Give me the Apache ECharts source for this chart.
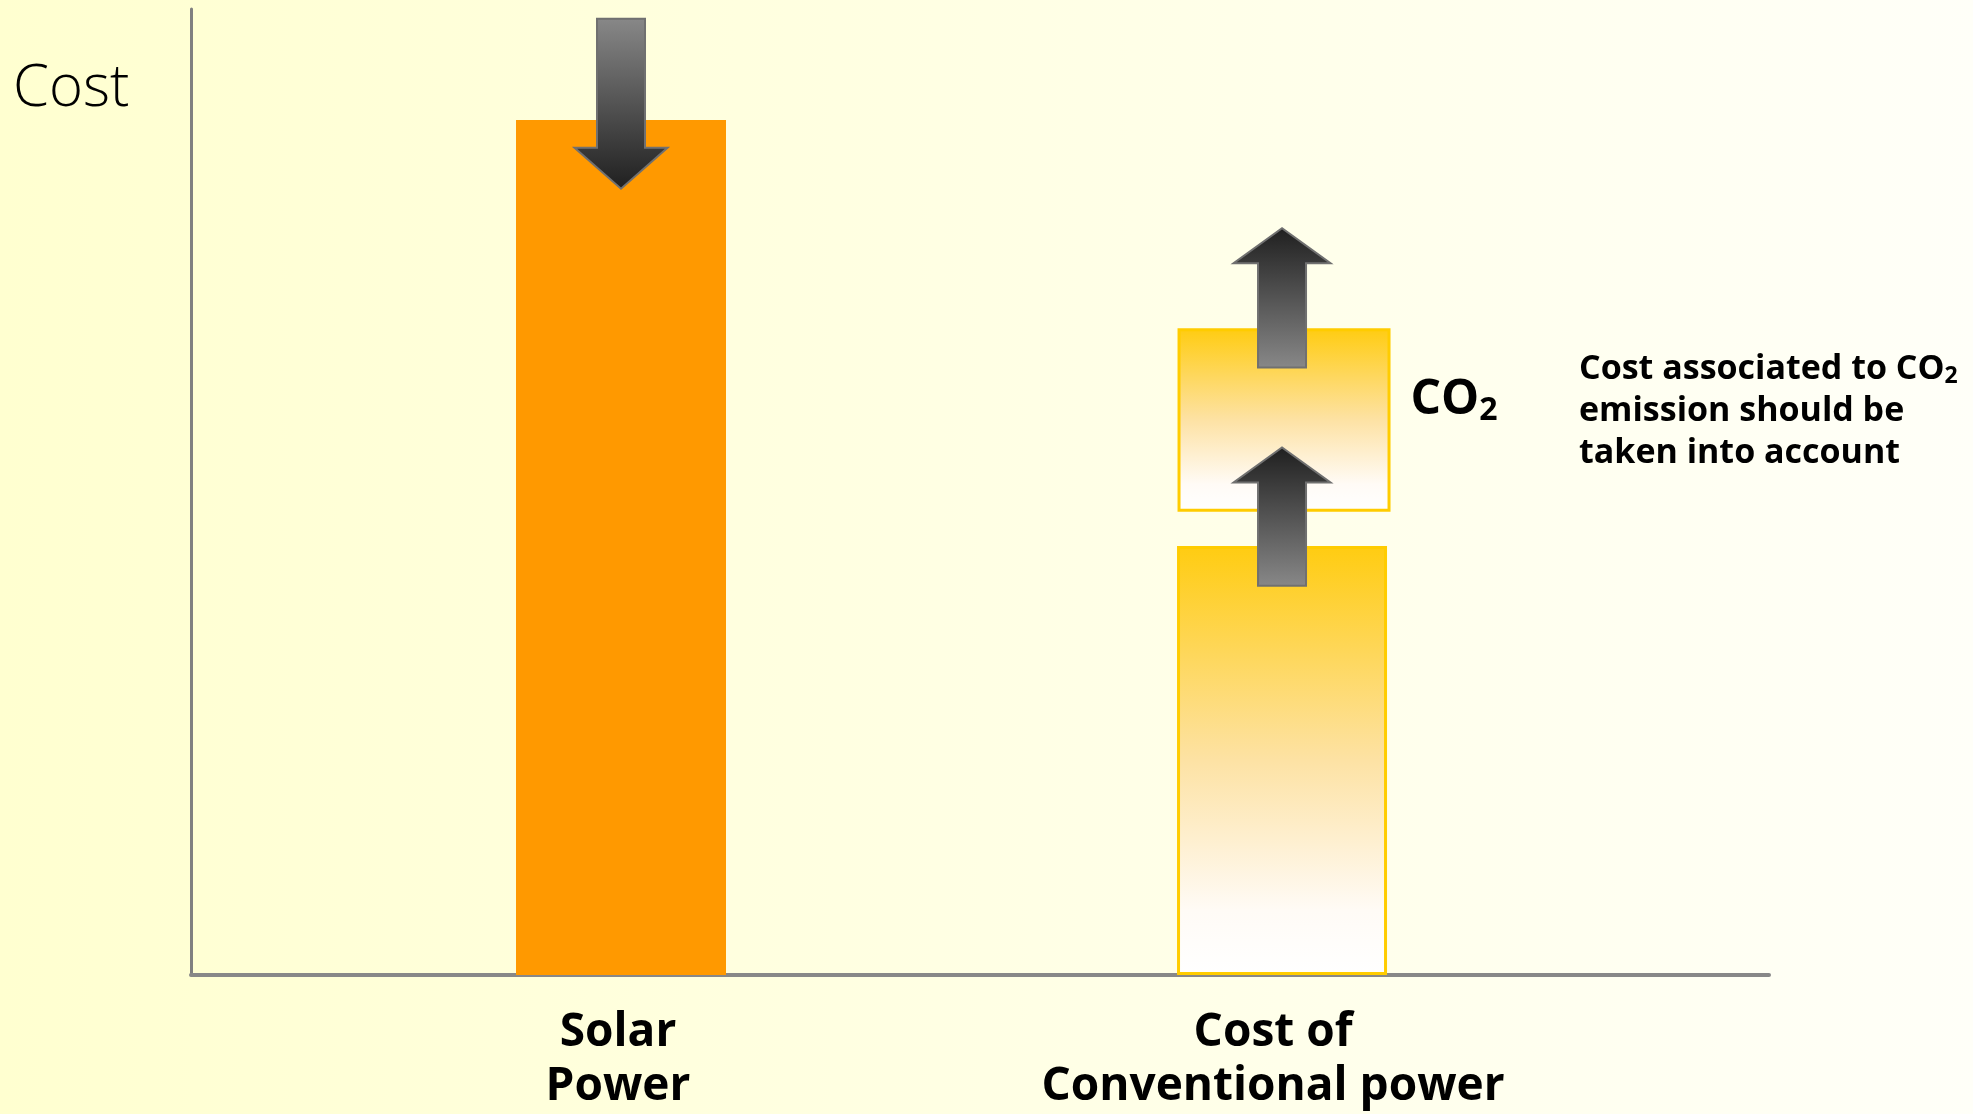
<!DOCTYPE html>
<html>
<head>
<meta charset="utf-8">
<script src="https://cdn.jsdelivr.net/npm/echarts@6/dist/echarts.min.js"></script>
<style>
  html, body { margin: 0; padding: 0; }
  #chart { width: 1973px; height: 1114px; }
</style>
</head>
<body>
<div id="chart"></div>
<script>
// 数据
const categories = ['Solar\nPower', 'Cost of\nConventional power'];
const categoryX = [27.25, 69.14];       // 柱子在横轴上的位置
const solarCost = [88.5];
const conventionalCost = [44.4];
const co2From = [48.1];                  // CO2 方块下沿
const co2To = [66.8];                    // CO2 方块上沿
const co2Label = 'CO{sub|2}';
const note = 'Cost associated to CO{sub|2}\nemission should be\ntaken into account';

// 箭头：x, 尾, 头
const arrowX = [27.25, 69.14, 69.14];
const arrowFrom = [99.0, 62.9, 40.3];
const arrowTo = [81.4, 77.3, 54.6];

const BOLD_FONT = '"Open Sans", "Noto Sans", sans-serif';
const BAR_W = 210;

const chart = echarts.init(document.getElementById('chart'));

function yellowFill() {
    return new echarts.graphic.LinearGradient(0, 0, 0, 1, [
        { offset: 0, color: '#FFCC11' },
        { offset: 0.5, color: '#FDE2A4' },
        { offset: 0.85, color: '#FFFBF6' },
        { offset: 1, color: '#FFFFFF' }
    ]);
}

const catLabel = {
    show: true,
    position: 'bottom',
    distance: 31,
    color: '#000',
    fontFamily: BOLD_FONT,
    fontWeight: 'bold',
    fontSize: 46,
    lineHeight: 54,
    align: 'center'
};

const option = {
    backgroundColor: new echarts.graphic.LinearGradient(0, 0, 1, 0, [
        { offset: 0, color: '#FFFFD0' },
        { offset: 1, color: '#FFFFF8' }
    ]),
    animation: false,
    title: {
        text: 'Cost',
        left: 8,
        top: 55,
        textStyle: {
            fontFamily: '"Open Sans", "Noto Sans", sans-serif',
            fontWeight: 300,
            fontSize: 58,
            color: '#000'
        }
    },
    grid: { left: 191, right: 204, top: 9, bottom: 139 },
    xAxis: {
        type: 'value',
        min: 0,
        max: 100,
        axisLine: { show: true, lineStyle: { color: '#888', width: 4 } },
        axisTick: { show: false },
        axisLabel: { show: false },
        splitLine: { show: false }
    },
    yAxis: {
        type: 'value',
        min: 0,
        max: 100,
        axisLine: { show: true, lineStyle: { color: '#808080', width: 3 } },
        axisTick: { show: false },
        axisLabel: { show: false },
        splitLine: { show: false }
    },
    series: [
        {
            name: 'Solar',
            type: 'bar',
            barWidth: BAR_W,
            barGap: '-100%',
            data: solarCost.map(v => [categoryX[0], v]),
            itemStyle: { color: '#FF9900' },
            label: Object.assign({}, catLabel, { formatter: categories[0], offset: [-3, 0] })
        },
        {
            name: 'Conventional',
            type: 'bar',
            barWidth: BAR_W,
            barGap: '-100%',
            data: conventionalCost.map(v => [categoryX[1], v]),
            itemStyle: { color: yellowFill(), borderColor: '#FFCC00', borderWidth: 3 },
            label: Object.assign({}, catLabel, { formatter: categories[1], offset: [-9, 0] })
        },
        {
            // CO2 浮动方块
            name: 'CO2',
            type: 'custom',
            z: 5,
            data: co2From.map((v, i) => [categoryX[1], v, co2To[i]]),
            renderItem: function (params, api) {
                const lo = api.coord([api.value(0), api.value(1)]);
                const hi = api.coord([api.value(0), api.value(2)]);
                return {
                    type: 'rect',
                    shape: { x: lo[0] - BAR_W / 2 + 2, y: hi[1], width: BAR_W, height: lo[1] - hi[1] },
                    style: { fill: yellowFill(), stroke: '#FFCC00', lineWidth: 3 },
                    textContent: {
                        style: {
                            text: co2Label,
                            fill: '#000',
                            font: 'bold 48px ' + BOLD_FONT,
                            rich: {
                                sub: {
                                    fontFamily: BOLD_FONT,
                                    fontWeight: 'bold',
                                    fontSize: 32,
                                    fill: '#000',
                                    padding: [22, 0, 0, 0]
                                }
                            }
                        }
                    },
                    textConfig: { position: 'right', distance: 20, offset: [0, -20] }
                };
            }
        },
        {
            name: 'arrows',
            type: 'custom',
            z: 10,
            data: arrowX.map((x, i) => [x, arrowFrom[i], arrowTo[i]]),
            renderItem: function (params, api) {
                const tail = api.coord([api.value(0), api.value(1)]);
                const tip = api.coord([api.value(0), api.value(2)]);
                const down = tip[1] > tail[1];
                const dir = down ? 1 : -1;
                const shaftW = 48;
                const headW = down ? 93 : 97;
                const headL = down ? 41 : 35;
                const cx = tail[0];
                const neck = tip[1] - dir * headL;
                return {
                    type: 'polygon',
                    shape: {
                        points: [
                            [cx - shaftW / 2, tail[1]],
                            [cx + shaftW / 2, tail[1]],
                            [cx + shaftW / 2, neck],
                            [cx + headW / 2, neck],
                            [cx, tip[1]],
                            [cx - headW / 2, neck],
                            [cx - shaftW / 2, neck]
                        ]
                    },
                    style: {
                        fill: new echarts.graphic.LinearGradient(0, down ? 0 : 1, 0, down ? 1 : 0, [
                            { offset: 0, color: '#888888' },
                            { offset: 1, color: '#1F1F1F' }
                        ]),
                        stroke: '#707070',
                        lineWidth: 2
                    }
                };
            }
        }
    ],
    graphic: [
        {
            type: 'text',
            left: 1579,
            top: 348,
            style: {
                text: note,
                fill: '#000',
                font: 'bold 34px ' + BOLD_FONT,
                lineHeight: 42,
                rich: {
                    sub: {
                        fontFamily: BOLD_FONT,
                        fontWeight: 'bold',
                        fontSize: 23,
                        padding: [14, 0, 0, 0]
                    }
                }
            }
        }
    ]
};

chart.setOption(option);
</script>
</body>
</html>
